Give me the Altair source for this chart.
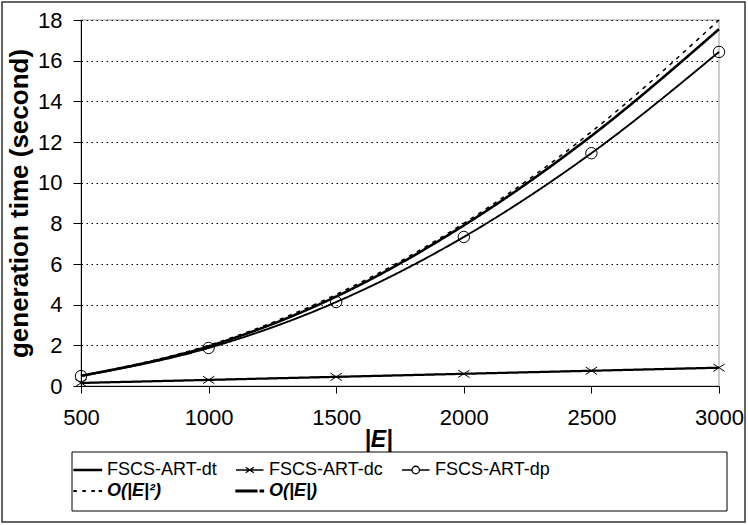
import altair as alt
import pandas as pd

# Number of edges |E|
edges = [500, 1000, 1500, 2000, 2500, 3000]

# Generation time in seconds for each method / reference curve
fscs_dt = [0.5, 1.95, 4.4, 7.9, 12.3, 17.55]
fscs_dc = [0.15, 0.3, 0.45, 0.6, 0.75, 0.9]
fscs_dp = [0.49, 1.87, 4.13, 7.33, 11.45, 16.43]
o_e2 = [0.5, 2.0, 4.5, 8.0, 12.5, 18.0]
o_e = [0.15, 0.3, 0.45, 0.6, 0.75, 0.9]

series_names = ["FSCS-ART-dt", "FSCS-ART-dc", "FSCS-ART-dp", "O(|E|²)", "O(|E|)"]
series_values = [fscs_dt, fscs_dc, fscs_dp, o_e2, o_e]

rows = []
for name, vals in zip(series_names, series_values):
    for e, v in zip(edges, vals):
        rows.append({"E": e, "t": v, "series": name})
df = pd.DataFrame(rows)

# line styles per series
dash_range = [[1, 0], [1, 0], [1, 0], [4, 5], [14, 9]]
width_range = [2.6, 1.2, 1.2, 2.0, 3.0]

# legend glyphs (x from -1 to 1.5 so they are wider than the row height):
# short line segments with the marker in the middle; thick strokes are
# drawn as thin outlined bars
glyphs = [
    "M-1,-0.06H1.5V0.06H-1Z",
    "M-1,0H1.5M-0.12,-0.25L0.62,0.25M-0.12,0.25L0.62,-0.25",
    "M-1,0H-0.09M0.59,0H1.5M-0.09,0A0.34,0.34 0 1,0 0.59,0A0.34,0.34 0 1,0 -0.09,0",
    "M-1,-0.03H-0.8V0.03H-1ZM-0.18,-0.03H0.02V0.03H-0.18Z"
    "M0.64,-0.03H0.84V0.03H0.64ZM1.3,-0.03H1.5V0.03H1.3Z",
    "M-1,-0.07H0.9V0.07H-1ZM1.2,-0.07H1.5V0.07H1.2Z",
]

x_enc = alt.X(
    "E:Q",
    scale=alt.Scale(domain=[500, 3000], nice=False, zero=False),
    axis=alt.Axis(
        values=edges,
        format="d",
        title="|E|",
        titleFontSize=23,
        titleFontWeight="bold",
        titleFontStyle="italic",
        titlePadding=0,
        titleX=297,
        labelFontSize=22,
        labelPadding=14,
        labelFlush=False,
        labelOverlap=False,
        tickSize=7,
        grid=False,
        domainColor="black",
        tickColor="black",
        labelColor="black",
    ),
)
y_enc = alt.Y(
    "t:Q",
    scale=alt.Scale(domain=[0, 18], nice=False),
    axis=alt.Axis(
        values=list(range(0, 19, 2)),
        title="generation time (second)",
        titleFontSize=26,
        titleFontWeight="bold",
        titlePadding=5,
        labelFontSize=22,
        labelPadding=11,
        labelFlush=False,
        labelOverlap=False,
        tickSize=8,
        grid=True,
        gridColor="black",
        gridDash=[1.5, 3.5],
        gridWidth=1,
        domainColor="black",
        tickColor="black",
        labelColor="black",
    ),
)

lines = alt.Chart(df).mark_line(color="black", interpolate="monotone").encode(
    x=x_enc,
    y=y_enc,
    detail="series:N",
    strokeDash=alt.StrokeDash(
        "series:N", scale=alt.Scale(domain=series_names, range=dash_range), legend=None
    ),
    strokeWidth=alt.StrokeWidth(
        "series:N", scale=alt.Scale(domain=series_names, range=width_range), legend=None
    ),
)

markers = (
    alt.Chart(df)
    .transform_filter(alt.FieldOneOfPredicate(field="series", oneOf=["FSCS-ART-dc", "FSCS-ART-dp"]))
    .mark_point(color="black", filled=False, strokeWidth=1, size=130, opacity=1)
    .encode(
        x="E:Q",
        y="t:Q",
        shape=alt.Shape(
            "series:N",
            scale=alt.Scale(
                domain=["FSCS-ART-dc", "FSCS-ART-dp"],
                range=["M-1,-0.65L1,0.65M-1,0.65L1,-0.65", "circle"],
            ),
            legend=None,
        ),
    )
)

bold_expr = "indexof(datum.label, 'O(') == 0"

legend_spec = alt.Legend(
    title=None,
    orient="none",
    direction="horizontal",
    legendX=-8,
    legendY=438,
    columns=3,
    columnPadding=16,
    rowPadding=0,
    symbolSize=484,
    symbolStrokeColor="black",
    symbolFillColor="transparent",
    symbolStrokeWidth=1.3,
    symbolOpacity=1,
    labelFontSize=18,
    labelColor="black",
    labelOffset=10,
    labelFontWeight={"expr": bold_expr + " ? 'bold' : 'normal'"},
    labelFontStyle={"expr": bold_expr + " ? 'italic' : 'normal'"},
)

legend_layer = (
    alt.Chart(df)
    .transform_filter("false")
    .mark_point(color="black", filled=False, opacity=1)
    .encode(
        x="E:Q",
        y="t:Q",
        shape=alt.Shape(
            "series:N",
            scale=alt.Scale(domain=series_names, range=glyphs),
            legend=legend_spec,
        ),
    )
)

box_data = alt.Data(values=[{"k": 0}])
legend_box = alt.Chart(box_data).mark_rect(
    fill="transparent", stroke="black", strokeWidth=1, clip=False
).encode(x=alt.value(-9), x2=alt.value(646), y=alt.value(432), y2=alt.value(491))

frame = alt.Chart(box_data).mark_rect(
    fill="transparent", stroke="#333333", strokeWidth=1.5, clip=False
).encode(x=alt.value(-79), x2=alt.value(664), y=alt.value(-18), y2=alt.value(502))

chart = (
    alt.layer(lines, markers, legend_layer, legend_box, frame)
    .resolve_scale(shape="independent")
    .properties(
        width=638,
        height=366,
        autosize=alt.AutoSizeParams(type="none"),
        padding={"left": 81, "top": 20, "right": 29, "bottom": 139},
        background="white",
    )
    .configure_view(stroke="#bdbdbd", strokeWidth=1.5)
    .configure_axis(labelFont="Liberation Sans", titleFont="Liberation Sans")
    .configure_legend(labelFont="Liberation Sans")
)

chart.save("out.html", embed_options={"renderer": "svg", "actions": False})
